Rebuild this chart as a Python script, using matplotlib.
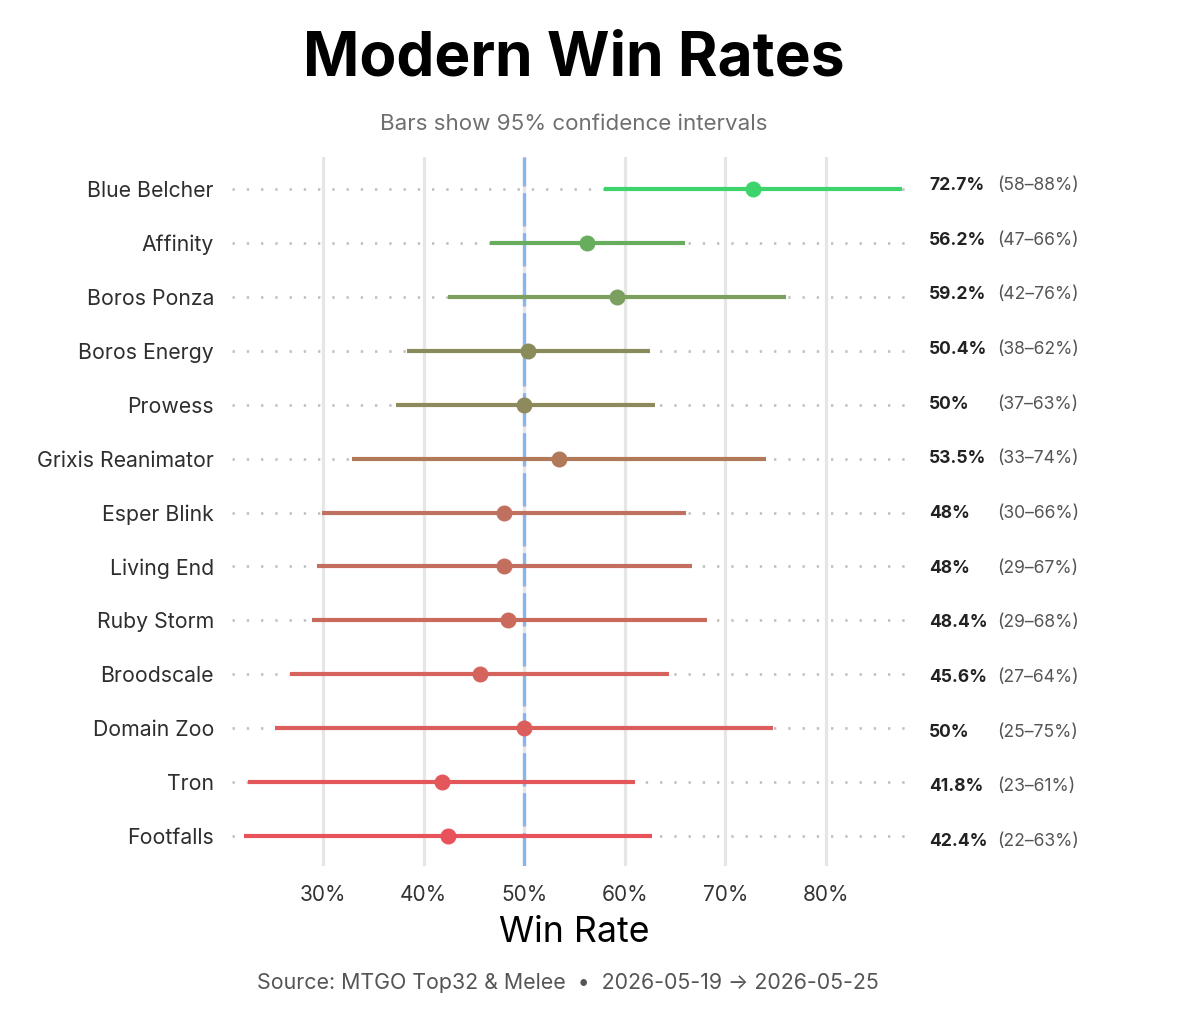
import matplotlib
matplotlib.use("Agg")
import matplotlib.pyplot as plt
from matplotlib.ticker import FuncFormatter

plt.rcParams['font.family'] = ['Inter', 'DejaVu Sans']

# data, top to bottom
decks = ["Blue Belcher", "Affinity", "Boros Ponza", "Boros Energy", "Prowess",
         "Grixis Reanimator", "Esper Blink", "Living End", "Ruby Storm",
         "Broodscale", "Domain Zoo", "Tron", "Footfalls"]
win_rate = [72.7, 56.2, 59.2, 50.4, 50.0, 53.5, 48.0, 48.0, 48.4, 45.6, 50.0, 41.8, 42.4]
ci_low = [57.9, 46.6, 42.4, 38.3, 37.3, 32.9, 29.9, 29.4, 28.9, 26.7, 25.2, 22.5, 22.1]
ci_high = [87.6, 66.0, 76.0, 62.5, 63.0, 74.0, 66.1, 66.7, 68.2, 64.4, 74.7, 61.0, 62.7]
low_label = [58, 47, 42, 38, 37, 33, 30, 29, 29, 27, 25, 23, 22]
high_label = [88, 66, 76, 62, 63, 74, 66, 67, 68, 64, 75, 61, 63]

colors = ["#3dd56b", "#68ac5e", "#7a9f5f", "#8a8b5b", "#8f8a5c", "#b07a5a",
          "#c0705e", "#c36e5e", "#c96a5c", "#d5645c", "#dc5e5c", "#e3575a", "#e8525a"]

W, H = 1200, 1029
fig = plt.figure(figsize=(12, 10.29), dpi=100)
ax = fig.add_axes([232 / W, 1 - 866 / H, 675 / W, 709 / H])

n = len(decks)
ys = list(range(n))

for xv in [30, 40, 50, 60, 70, 80]:
    ax.axvline(xv, color="#e6e6e6", lw=2.3, zorder=0)

for i in ys:
    ax.axhline(i, color="#c0c0c0", lw=1.9, dashes=(0.9, 4.5), zorder=1)

ax.axvline(50, color="#8ab4f0", lw=2.4, dashes=(10, 2), zorder=2)

# side labels sit on their own, slightly wider row spacing
txt_top, txt_step = 185.5, 54.67
for i in ys:
    ax.plot([ci_low[i], ci_high[i]], [i, i], color=colors[i], lw=3,
            solid_capstyle="butt", zorder=3)
    ax.plot(win_rate[i], i, "o", color=colors[i], ms=10.5, zorder=4)

    ty = 1 - (txt_top + txt_step * i) / H
    fig.text(929 / W, ty, f"{win_rate[i]:g}%",
             ha="left", va="center", fontsize=12.6, fontweight="bold", color="#222222")
    fig.text(997 / W, ty, f"({low_label[i]}\u2013{high_label[i]}%)",
             ha="left", va="center", fontsize=12.6, color="#555555")

ax.set_xlim(20.95, 88.05)
ax.set_ylim(n - 1 + 0.56, -0.6)
ax.set_yticks(ys)
ax.set_yticklabels(decks, fontsize=15.3, color="#2e2e2e")
ax.set_xticks([30, 40, 50, 60, 70, 80])
ax.xaxis.set_major_formatter(FuncFormatter(lambda v, p: f"{v:.0f}%"))
ax.tick_params(axis="x", labelsize=15, colors="#333333", length=0, pad=14)
ax.tick_params(axis="y", length=0, pad=13)
for s in ax.spines.values():
    s.set_visible(False)

fig.text(574 / W, 1 - 933 / H, "Win Rate", ha="center", va="center",
         fontsize=25.7, color="#000000")
fig.text(574 / W, 1 - 59 / H, "Modern Win Rates", ha="center", va="center",
         fontsize=43.5, fontweight="bold", color="#000000")
fig.text(574 / W, 1 - 124 / H, "Bars show 95% confidence intervals",
         ha="center", va="center", fontsize=16.1, color="#6f6f6f")
fig.text(568 / W, 1 - 983 / H,
         "Source: MTGO Top32 & Melee  \u2022  2026-05-19 \u2192 2026-05-25",
         ha="center", va="center", fontsize=15.4, color="#555555")

fig.savefig("out.png", dpi=100, facecolor="white")
